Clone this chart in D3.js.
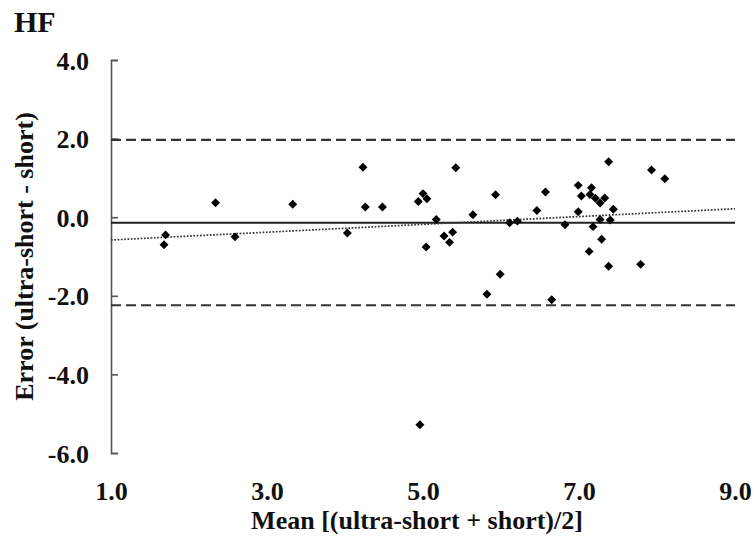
<!DOCTYPE html>
<html>
<head>
<meta charset="utf-8">
<script src="https://cdn.jsdelivr.net/npm/d3@7"></script>
<style>
  html, body { margin: 0; padding: 0; background: #fff; }
  svg { display: block; font-family: "Liberation Serif", "Times New Roman", serif; font-weight: bold; }
</style>
</head>
<body>
<svg id="chart" width="755" height="538"></svg>
<script>
// ---- data ----
const meanValues = [1.68,1.70,2.34,2.59,3.33,4.03,4.23,4.26,4.48,4.94,5.00,5.05,5.04,5.17,5.27,5.34,5.38,5.42,5.64,5.82,5.93,5.99,6.11,6.21,6.46,6.57,6.65,6.82,6.99,6.99,7.03,7.16,7.14,7.21,7.27,7.33,7.38,7.44,7.27,7.40,7.18,7.29,7.13,7.38,7.79,7.93,8.10,4.96];
const errorValues = [-0.70,-0.45,0.37,-0.50,0.33,-0.40,1.27,0.26,0.26,0.40,0.60,0.47,-0.76,-0.06,-0.48,-0.64,-0.38,1.26,0.06,-1.96,0.57,-1.45,-0.14,-0.10,0.17,0.64,-2.10,-0.19,0.81,0.14,0.54,0.75,0.58,0.48,0.36,0.49,1.41,0.20,-0.06,-0.07,-0.24,-0.56,-0.87,-1.25,-1.20,1.20,0.98,-5.28];
const meanBias = -0.14;
const limitsOfAgreement = [1.97, -2.24];
const regressionX = [1.0, 9.0];
const regressionY = [-0.58, 0.215];
const xTicks = [1.0, 3.0, 5.0, 7.0, 9.0];
const yTicks = [4.0, 2.0, 0.0, -2.0, -4.0, -6.0];
const chartTitle = "HF";
const xTitle = "Mean [(ultra-short + short)/2]";
const yTitle = "Error (ultra-short - short)";

// ---- layout ----
const svg = d3.select("#chart");
const mLeft = 111, mRight = 735, mTop = 60, mBottom = 453;
const x = d3.scaleLinear().domain([1, 9]).range([mLeft, mRight]);
const y = d3.scaleLinear().domain([-6, 4]).range([mBottom, mTop]);
const fmt = d => d.toFixed(1);

// y axis (ticks pointing inwards)
const yAxis = d3.axisLeft(y).tickValues(yTicks).tickSize(-7).tickFormat(fmt);
const yg = svg.append("g").attr("transform", `translate(${mLeft},0)`).call(yAxis);
yg.select(".domain").attr("stroke", "#555").attr("stroke-width", 1.6);
yg.selectAll(".tick line").attr("stroke", "#555").attr("stroke-width", 1.6);
yg.selectAll(".tick text").attr("x", -22).attr("dy", "0.35em")
  .style("font-family", "'Liberation Serif', serif").style("font-weight", "bold")
  .style("font-size", "26px").attr("fill", "#111");

// x axis (labels only)
const xAxis = d3.axisBottom(x).tickValues(xTicks).tickSize(0).tickFormat(fmt);
const xg = svg.append("g").attr("transform", `translate(0,${mBottom})`).call(xAxis);
xg.select(".domain").remove();
xg.selectAll(".tick text").attr("y", 0).attr("dy", "1.8em")
  .style("font-family", "'Liberation Serif', serif").style("font-weight", "bold")
  .style("font-size", "26px").attr("fill", "#111");

// limits of agreement
svg.selectAll("line.loa").data(limitsOfAgreement).enter().append("line")
  .attr("class", "loa")
  .attr("x1", x(1)).attr("x2", x(9))
  .attr("y1", d => y(d)).attr("y2", d => y(d))
  .attr("stroke", "#333").attr("stroke-width", 2.2).attr("stroke-dasharray", "10,5");

// mean bias
svg.append("line")
  .attr("x1", x(1)).attr("x2", x(9))
  .attr("y1", y(meanBias)).attr("y2", y(meanBias))
  .attr("stroke", "#222").attr("stroke-width", 2);

// regression line (dotted)
svg.append("path")
  .datum(regressionX.map((v, i) => [v, regressionY[i]]))
  .attr("d", d3.line().x(d => x(d[0])).y(d => y(d[1])))
  .attr("fill", "none").attr("stroke", "#333").attr("stroke-width", 1.7)
  .attr("stroke-dasharray", "1.7,1.6");

// points (diamonds)
svg.selectAll("path.pt").data(meanValues.map((v, i) => [v, errorValues[i]])).enter()
  .append("path").attr("class", "pt")
  .attr("d", d3.symbol().type(d3.symbolSquare).size(40))
  .attr("transform", d => `translate(${x(d[0])},${y(d[1])}) rotate(45)`)
  .attr("fill", "#000");

// titles
svg.append("text").attr("x", 14).attr("y", 32).text(chartTitle)
  .style("font-size", "30px").attr("fill", "#111");
svg.append("text").attr("x", (mLeft + mRight) / 2 - 6).attr("y", 529).attr("text-anchor", "middle")
  .text(xTitle).style("font-size", "26px").attr("fill", "#111");
svg.append("text").attr("transform", `translate(33,${(mTop + mBottom) / 2}) rotate(-90)`)
  .attr("text-anchor", "middle").text(yTitle).style("font-size", "26px").attr("fill", "#111");
</script>
</body>
</html>
